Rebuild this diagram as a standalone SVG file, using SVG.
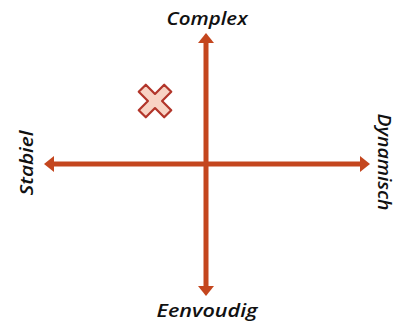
<svg xmlns="http://www.w3.org/2000/svg" width="400" height="325" viewBox="0 0 400 325">
<defs>
<style>
.ax{stroke:#C4461E;stroke-width:5;fill:none}
.hd{fill:#C4461E}
.lb{font-family:"Open Sans","Liberation Sans",sans-serif;font-weight:600;font-style:italic;font-size:18px;fill:#111}
</style>
</defs>
<rect width="400" height="325" fill="#fff"/>
<g id="connectors">
<line class="ax" x1="206" y1="42" x2="206" y2="288"/>
<line class="ax" x1="52" y1="164" x2="362" y2="164"/>
<polygon class="hd" points="206,33 214,43 198,43"/>
<polygon class="hd" points="206,296 214,286 198,286"/>
<polygon class="hd" points="44,164 54,156 54,172"/>
<polygon class="hd" points="370,164 360,156 360,172"/>
</g>
<g id="complex"><text class="lb" x="207" y="25" text-anchor="middle" textLength="81" lengthAdjust="spacingAndGlyphs">Complex</text></g>
<g id="eenvoudig"><text class="lb" x="207" y="317" text-anchor="middle" textLength="101" lengthAdjust="spacingAndGlyphs">Eenvoudig</text></g>
<g id="stabiel"><text class="lb" transform="translate(33,163) rotate(-90)" text-anchor="middle" textLength="65" lengthAdjust="spacingAndGlyphs">Stabiel</text></g>
<g id="dynamisch"><text class="lb" transform="translate(378,162) rotate(90)" text-anchor="middle" textLength="97" lengthAdjust="spacingAndGlyphs">Dynamisch</text></g>
<g id="cross" transform="translate(155,101) rotate(45)">
<polygon points="-5,-18 5,-18 5,-5 18,-5 18,5 5,5 5,18 -5,18 -5,5 -18,5 -18,-5 -5,-5" fill="#F8D3C4" stroke="#B2352A" stroke-width="2.2" stroke-linejoin="round"/>
</g>
</svg>
